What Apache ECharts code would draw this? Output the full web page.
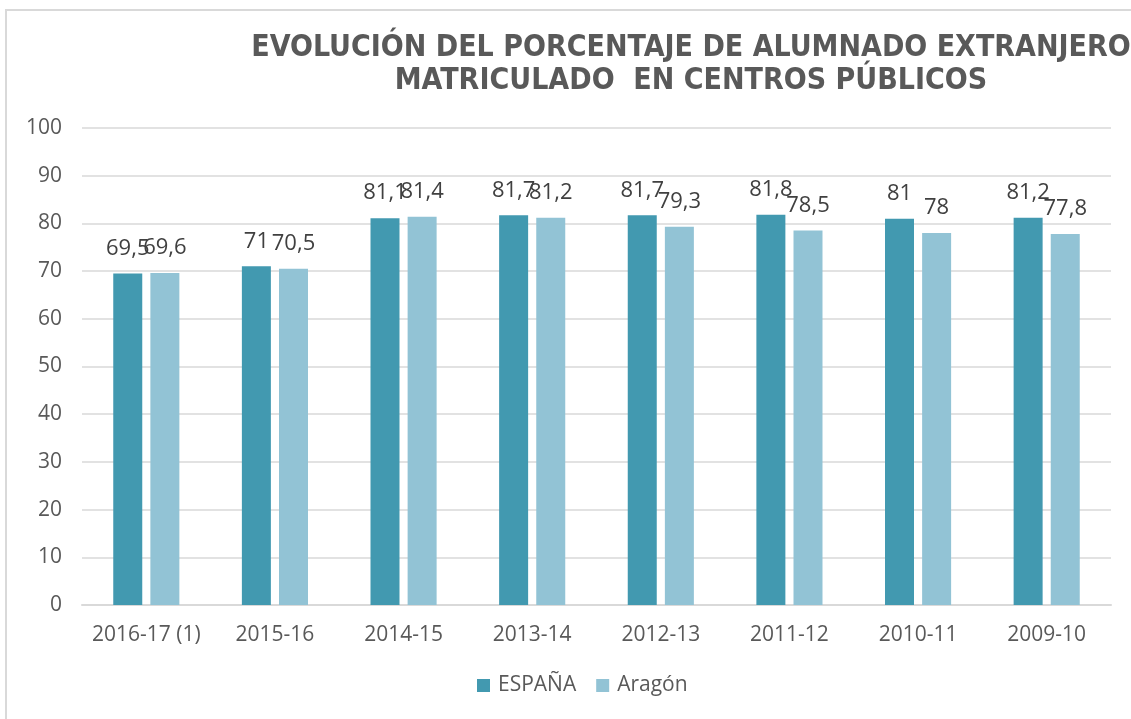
<!DOCTYPE html>
<html>
<head>
<meta charset="utf-8">
<title>Alumnado extranjero</title>
<script src="https://cdn.jsdelivr.net/npm/echarts@6/dist/echarts.min.js"></script>
<style>
  html, body { margin: 0; padding: 0; background: #fff; }
  #main { width: 1131px; height: 719px; }
</style>
</head>
<body>
<div id="main"></div>
<script>
// cursos (orden como en el original)
var categories = ['2016-17 (1)', '2015-16', '2014-15', '2013-14', '2012-13', '2011-12', '2010-11', '2009-10'];
var espana = [69.5, 71, 81.1, 81.7, 81.7, 81.8, 81, 81.2];
var aragon = [69.6, 70.5, 81.4, 81.2, 79.3, 78.5, 78, 77.8];

var textColor = '#595959';
var fmt = function (p) { return String(p.value).replace('.', ','); };

var myChart = echarts.init(document.getElementById('main'));
var option = {
  animation: false,
  textStyle: { fontFamily: 'Open Sans' },
  graphic: [
    {
      type: 'rect',
      shape: { x: 6, y: 10, width: 1200, height: 800 },
      style: { fill: 'none', stroke: '#d9d9d9', lineWidth: 2 }
    }
  ],
  title: {
    text: 'EVOLUCIÓN DEL PORCENTAJE DE ALUMNADO EXTRANJERO\nMATRICULADO  EN CENTROS PÚBLICOS',
    left: 686,
    top: 27,
    textAlign: 'center',
    textStyle: {
      fontFamily: 'DejaVu Sans Condensed',
      fontWeight: 'bold',
      fontSize: 30,
      lineHeight: 33,
      color: textColor
    }
  },
  legend: {
    bottom: 18,
    left: 472,
    itemWidth: 13,
    itemHeight: 13,
    itemGap: 20,
    icon: 'rect',
    textStyle: { fontSize: 21, color: textColor, fontFamily: 'Open Sans', padding: [0, 0, 0, 3] },
    data: ['ESPAÑA', 'Aragón']
  },
  grid: {
    left: 82,
    right: 20,
    top: 128,
    bottom: 114
  },
  xAxis: {
    type: 'category',
    data: categories,
    axisTick: { show: false },
    axisLine: { lineStyle: { color: '#d9d9d9', width: 2 } },
    axisLabel: { fontSize: 21, color: textColor, margin: 20, interval: 0 }
  },
  yAxis: {
    type: 'value',
    min: 0,
    max: 100,
    interval: 10,
    axisLine: { show: false },
    axisTick: { show: false },
    splitLine: { lineStyle: { color: '#d9d9d9', width: 1.5 } },
    axisLabel: { fontSize: 21, color: textColor, margin: 20 }
  },
  series: [
    {
      name: 'ESPAÑA',
      type: 'bar',
      data: espana,
      barWidth: 29,
      barGap: '28%',
      itemStyle: { color: '#4299b0' },
      label: { show: true, position: 'top', distance: 14, fontSize: 22, color: '#404040', formatter: fmt }
    },
    {
      name: 'Aragón',
      type: 'bar',
      data: aragon,
      barWidth: 29,
      itemStyle: { color: '#92c3d5' },
      label: { show: true, position: 'top', distance: 14, fontSize: 22, color: '#404040', formatter: fmt }
    }
  ]
};
option && myChart.setOption(option);
</script>
</body>
</html>
